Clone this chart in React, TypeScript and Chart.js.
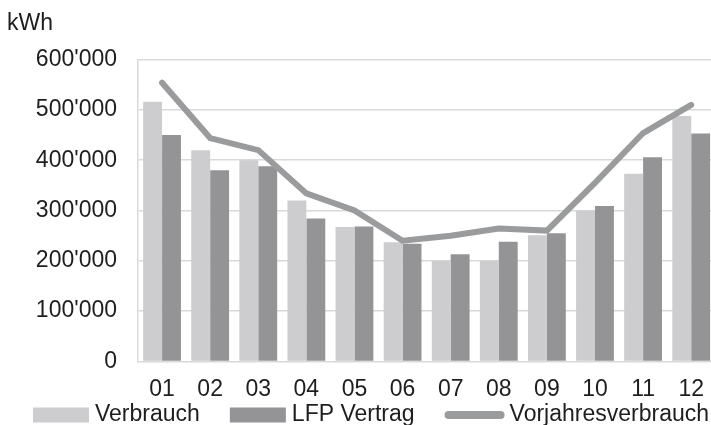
import { useEffect, useRef } from "react";
import { Chart, registerables } from "chart.js";

Chart.register(...registerables);

const categories = ["01", "02", "03", "04", "05", "06", "07", "08", "09", "10", "11", "12"];
const verbrauch = [516000, 420000, 400000, 320000, 267000, 237000, 200000, 200000, 251000, 300000, 373000, 488000];
const lfpVertrag = [450000, 380000, 388000, 284000, 268000, 234000, 213000, 238000, 255000, 309000, 406000, 453000];
const vorjahresverbrauch = [554000, 444000, 420000, 334000, 300000, 240000, 250000, 264000, 260000, 355000, 454000, 510000];
const seriesNames = ["Verbrauch", "LFP Vertrag", "Vorjahresverbrauch"];
const unitLabel = "kWh";
const yMin = 0;
const yMax = 600000;
const yStep = 100000;

const FONT = "'Liberation Sans', Arial, sans-serif";
const FONT_SIZE = 23;
const TEXT_COLOR = "#1e1e1e";
const C_LIGHT = "#cdcdcf";
const C_DARK = "#949497";
const C_LINE = "#9a9b9d";
const GRID = "#d9d9d9";

const fmt = (v: number) => {
  if (v === 0) return "0";
  const s = Math.round(v).toString();
  return s.replace(/\B(?=(\d{3})+(?!\d))/g, "'");
};

const legendPlugin = {
  id: "customLegend",
  afterDraw(chart: any) {
    const ctx = chart.ctx;
    ctx.save();
    ctx.font = `${FONT_SIZE}px ${FONT}`;
    ctx.textBaseline = "middle";
    ctx.fillStyle = TEXT_COLOR;
    const y = chart.height - 10;
    let x = 33;
    chart.data.datasets.forEach((ds: any) => {
      if (ds.type === "line") {
        ctx.strokeStyle = ds.borderColor;
        ctx.lineWidth = 8;
        ctx.lineCap = "round";
        ctx.beginPath();
        ctx.moveTo(x + 4, y);
        ctx.lineTo(x + 56, y);
        ctx.stroke();
        x += 65;
      } else {
        ctx.fillStyle = ds.backgroundColor;
        ctx.fillRect(x, y - 7.5, 56, 15);
        x += 62;
      }
      ctx.fillStyle = TEXT_COLOR;
      ctx.fillText(ds.label, x, y);
      x += ctx.measureText(ds.label).width + 30;
    });
    ctx.restore();
  },
};

export default function App() {
  const ref = useRef<HTMLCanvasElement | null>(null);

  useEffect(() => {
    if (!ref.current) return;
    Chart.defaults.font.family = FONT;
    Chart.defaults.color = TEXT_COLOR;
    const chart = new Chart(ref.current, {
      type: "bar",
      data: {
        labels: categories,
        datasets: [
          {
            type: "bar",
            label: seriesNames[0],
            data: verbrauch,
            backgroundColor: C_LIGHT,
            borderWidth: 0,
            order: 1,
          },
          {
            type: "bar",
            label: seriesNames[1],
            data: lfpVertrag,
            backgroundColor: C_DARK,
            borderWidth: 0,
            order: 1,
          },
          {
            type: "line",
            label: seriesNames[2],
            data: vorjahresverbrauch,
            borderColor: C_LINE,
            backgroundColor: C_LINE,
            borderWidth: 6,
            borderCapStyle: "round",
            borderJoinStyle: "miter",
            pointRadius: 0,
            tension: 0,
            order: 0,
          } as any,
        ],
      },
      options: {
        animation: false,
        responsive: false,
        maintainAspectRatio: false,
        devicePixelRatio: 1,
        layout: { padding: { left: 7, right: 0, top: 0, bottom: 8 } },
        datasets: {
          bar: { categoryPercentage: 0.786, barPercentage: 1 },
        },
        plugins: {
          legend: { display: false },
          tooltip: { enabled: false },
          title: {
            display: true,
            text: unitLabel,
            align: "start",
            color: TEXT_COLOR,
            font: { size: FONT_SIZE, weight: "normal", family: FONT },
            padding: { top: 10, bottom: 22 },
          },
        },
        scales: {
          x: {
            grid: { display: false, drawTicks: false },
            border: { display: false },
            ticks: { color: TEXT_COLOR, font: { size: FONT_SIZE }, padding: 14 },
          },
          y: {
            min: yMin,
            max: yMax,
            afterFit: (scale: any) => {
              scale.width = 131;
            },
            grid: { color: GRID, lineWidth: 1.5, drawTicks: false },
            border: { display: true, color: GRID, width: 1.5 },
            ticks: {
              stepSize: yStep,
              color: TEXT_COLOR,
              font: { size: FONT_SIZE },
              padding: 21,
              callback: (v: any) => fmt(Number(v)),
            },
          },
        },
      },
      plugins: [legendPlugin],
    });
    return () => chart.destroy();
  }, []);

  return (
    <div style={{ position: "fixed", left: 0, top: 0, width: 711, height: 425, overflow: "hidden", background: "#fff" }}>
      <div style={{ width: 718, height: 425 }}>
        <canvas ref={ref} width={718} height={425} style={{ width: 718, height: 425, display: "block" }} />
      </div>
    </div>
  );
}
